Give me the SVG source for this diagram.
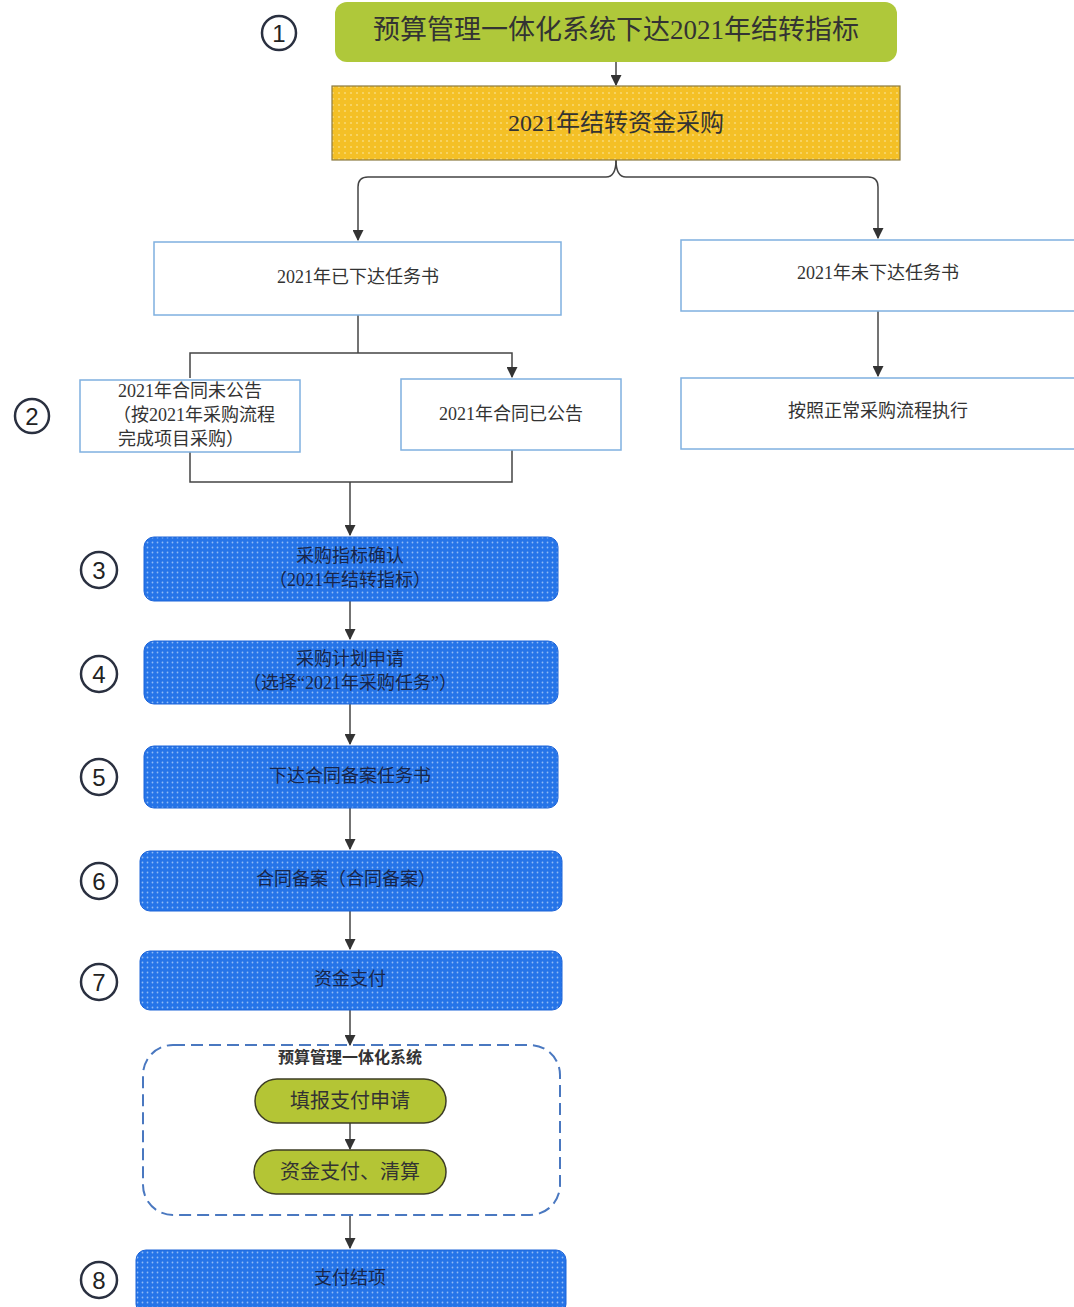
<svg xmlns="http://www.w3.org/2000/svg" width="1074" height="1307" viewBox="0 0 1074 1307">
<defs>
<style>
.t{font-family:"Liberation Serif","Noto Sans CJK SC",serif;fill:#333;text-anchor:middle;dominant-baseline:central}
.tb{font-family:"Liberation Serif","Noto Sans CJK SC",serif;fill:#18264a;text-anchor:middle;dominant-baseline:central;font-size:18px}
.num{font-family:"Liberation Sans",sans-serif;fill:#222;text-anchor:middle;dominant-baseline:central;font-size:24px}
.circ{fill:#fff;stroke:#2a3040;stroke-width:2.5}
.wbox{fill:#fff;stroke:#7fb0e0;stroke-width:1.5}
.blue{fill:url(#dots);stroke:#1d64d8;stroke-width:1}
.pill{fill:#b4c535;stroke:#3d3d25;stroke-width:1.5}
.ln{fill:none;stroke:#444;stroke-width:1.5}
</style>
<pattern id="dots" width="5" height="5" patternUnits="userSpaceOnUse">
<rect width="5" height="5" fill="#2574e8"/>
<circle cx="2.5" cy="2.5" r="0.9" fill="#8fbaf5"/>
</pattern>
<pattern id="ydots" width="6" height="6" patternUnits="userSpaceOnUse">
<rect width="6" height="6" fill="#f4c026"/>
<circle cx="3" cy="3" r="1.1" fill="#f8d870"/>
</pattern>
<marker id="ar" viewBox="0 0 10 10" refX="9" refY="5" markerWidth="11" markerHeight="11" markerUnits="userSpaceOnUse" orient="auto">
<path d="M0,0 L10,5 L0,10 z" fill="#333"/>
</marker>
</defs>
<rect width="1074" height="1307" fill="#fff"/>

<g id="connectors">
<line class="ln" x1="616" y1="62" x2="616" y2="85" marker-end="url(#ar)"/>
<path class="ln" d="M616,160 Q616,177 606,177 L368,177 Q358,177 358,187 L358,240" marker-end="url(#ar)"/>
<path class="ln" d="M616,160 Q616,177 626,177 L868,177 Q878,177 878,187 L878,238" marker-end="url(#ar)"/>
<line class="ln" x1="358" y1="315" x2="358" y2="353"/>
<path class="ln" d="M190,378 L190,353 L512,353 L512,377" marker-end="url(#ar)"/>
<line class="ln" x1="878" y1="311" x2="878" y2="376" marker-end="url(#ar)"/>
<path class="ln" d="M190,452 L190,482 L512,482 L512,450"/>
<line class="ln" x1="350" y1="482" x2="350" y2="535" marker-end="url(#ar)"/>
<line class="ln" x1="350" y1="601" x2="350" y2="639" marker-end="url(#ar)"/>
<line class="ln" x1="350" y1="704" x2="350" y2="744" marker-end="url(#ar)"/>
<line class="ln" x1="350" y1="808" x2="350" y2="849" marker-end="url(#ar)"/>
<line class="ln" x1="350" y1="911" x2="350" y2="949" marker-end="url(#ar)"/>
<line class="ln" x1="350" y1="1010" x2="350" y2="1045" marker-end="url(#ar)"/>
<line class="ln" x1="350" y1="1123" x2="350" y2="1149" marker-end="url(#ar)"/>
<line class="ln" x1="350" y1="1215" x2="350" y2="1248" marker-end="url(#ar)"/>
</g>

<g id="n1">
<circle class="circ" cx="279" cy="33" r="17"/>
<text class="num" x="279" y="33">1</text>
<rect x="335" y="2" width="562" height="60" rx="12" fill="#afc83a"/>
<text class="t" x="616" y="30" font-size="27" fill="#2a2a20">预算管理一体化系统下达2021年结转指标</text>
</g>
<g id="carry">
<rect x="332" y="86" width="568" height="74" fill="url(#ydots)" stroke="#8a7a40" stroke-width="1.2"/>
<text class="t" x="616" y="123" font-size="24">2021年结转资金采购</text>
</g>
<g id="issued">
<rect class="wbox" x="154" y="242" width="407" height="73"/>
<text class="t" x="358" y="277" font-size="18">2021年已下达任务书</text>
</g>
<g id="notissued">
<rect class="wbox" x="681" y="240" width="400" height="71"/>
<text class="t" x="878" y="273" font-size="18">2021年未下达任务书</text>
</g>
<g id="normal">
<rect class="wbox" x="681" y="378" width="400" height="71"/>
<text class="t" x="878" y="411" font-size="18">按照正常采购流程执行</text>
</g>
<g id="n2">
<circle class="circ" cx="32" cy="416" r="17"/>
<text class="num" x="32" y="416">2</text>
</g>
<g id="notannounced">
<rect class="wbox" x="80" y="380" width="220" height="72"/>
<text class="t" x="190" y="391" font-size="18">2021年合同未公告</text>
<text class="t" x="194" y="415" font-size="18">（按2021年采购流程</text>
<text class="t" x="181" y="439" font-size="18">完成项目采购）</text>
</g>
<g id="announced">
<rect class="wbox" x="401" y="379" width="220" height="71"/>
<text class="t" x="511" y="414" font-size="18">2021年合同已公告</text>
</g>

<g id="n3">
<circle class="circ" cx="99" cy="570" r="18"/>
<text class="num" x="99" y="570">3</text>
<rect class="blue" x="144" y="537" width="414" height="64" rx="10"/>
<text class="tb" x="350" y="556">采购指标确认</text>
<text class="tb" x="350" y="580">（2021年结转指标）</text>
</g>
<g id="n4">
<circle class="circ" cx="99" cy="674" r="18"/>
<text class="num" x="99" y="674">4</text>
<rect class="blue" x="144" y="641" width="414" height="63" rx="10"/>
<text class="tb" x="350" y="659">采购计划申请</text>
<text class="tb" x="350" y="683">（选择“2021年采购任务”）</text>
</g>
<g id="n5">
<circle class="circ" cx="99" cy="777" r="18"/>
<text class="num" x="99" y="777">5</text>
<rect class="blue" x="144" y="746" width="414" height="62" rx="10"/>
<text class="tb" x="350" y="776">下达合同备案任务书</text>
</g>
<g id="n6">
<circle class="circ" cx="99" cy="881" r="18"/>
<text class="num" x="99" y="881">6</text>
<rect class="blue" x="140" y="851" width="422" height="60" rx="10"/>
<text class="tb" x="346" y="879">合同备案（合同备案）</text>
</g>
<g id="n7">
<circle class="circ" cx="99" cy="982" r="18"/>
<text class="num" x="99" y="982">7</text>
<rect class="blue" x="140" y="951" width="422" height="59" rx="10"/>
<text class="tb" x="350" y="979">资金支付</text>
</g>

<g id="system">
<rect x="143" y="1045" width="417" height="170" rx="30" fill="none" stroke="#4a78c0" stroke-width="2" stroke-dasharray="12,6"/>
<text class="t" x="350" y="1057" font-size="16" font-weight="bold" fill="#222">预算管理一体化系统</text>
</g>
<g id="fill">
<rect class="pill" x="255" y="1079" width="191" height="44" rx="22"/>
<text class="t" x="350" y="1101" font-size="20" fill="#2a2a10">填报支付申请</text>
</g>
<g id="settle">
<rect class="pill" x="254" y="1150" width="192" height="44" rx="22"/>
<text class="t" x="350" y="1172" font-size="20" fill="#2a2a10">资金支付、清算</text>
</g>

<g id="n8">
<circle class="circ" cx="99" cy="1280" r="18"/>
<text class="num" x="99" y="1280">8</text>
<rect class="blue" x="136" y="1250" width="430" height="64" rx="10"/>
<text class="tb" x="350" y="1278">支付结项</text>
</g>
</svg>
